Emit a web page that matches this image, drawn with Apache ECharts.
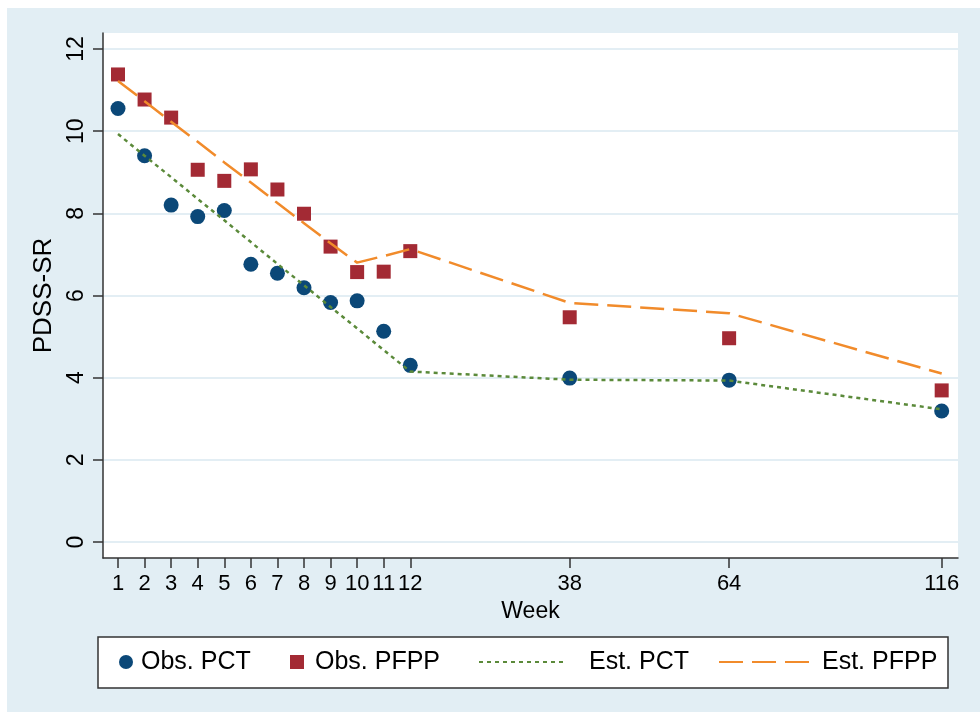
<!DOCTYPE html>
<html><head><meta charset="utf-8">
<script src="https://cdn.jsdelivr.net/npm/echarts@6/dist/echarts.min.js"></script>
<style>
html,body{margin:0;padding:0;background:#fff}
#wrap{position:relative;width:980px;height:712px;overflow:hidden}
#bg{position:absolute;left:7px;top:8px;right:0;bottom:0;background:#e2eef4}
#chart{position:absolute;left:0;top:0;width:980px;height:712px}
</style>
</head><body><div id="wrap"><div id="bg"></div><div id="chart"></div></div>
<script>
// ---- data ----
const weeks   = [1,2,3,4,5,6,7,8,9,10,11,12,38,64,116];
const obsPCT  = [10.55,9.40,8.20,7.92,8.07,6.76,6.54,6.19,5.83,5.87,5.13,4.30,3.99,3.94,3.19];
const obsPFPP = [11.38,10.77,10.33,9.06,8.79,9.07,8.58,7.99,7.19,6.57,6.58,7.08,5.47,4.96,3.69];
const estPCT  = [9.93,9.40,8.88,8.35,7.83,7.30,6.77,6.25,5.72,5.20,4.67,4.15,3.95,3.93,3.23];
const estPFPP = [11.22,10.73,10.23,9.74,9.24,8.75,8.25,7.76,7.27,6.80,6.96,7.13,5.82,5.57,4.10];
const yTicks  = [0,2,4,6,8,10,12];
const xTickWeeks = [1,2,3,4,5,6,7,8,9,10,11,12,38,64,116];
const seriesNames = ['Obs. PCT','Obs. PFPP','Est. PCT','Est. PFPP'];

// compressed (broken) week scale: weekly spacing up to 12, compressed after
function weekScale(w){
  if (w <= 12) return w;
  if (w <= 38) return 12 + (w-12)*6/26;
  if (w <= 64) return 18 + (w-38)*6/26;
  return 24 + (w-64)*8/52;
}
function weekLabel(v){
  for (const w of xTickWeeks){ if (Math.abs(weekScale(w)-v) < 1e-6) return String(w); }
  return '';
}
const pts = arr => weeks.map((w,i)=>[weekScale(w), arr[i]]);

const FONT = '"Liberation Sans", Arial, Helvetica, sans-serif';
const C_BLUE='#0b4878', C_RED='#a32a34', C_GREEN='#5b8a3a', C_ORANGE='#f18b2b';

const chart = echarts.init(document.getElementById('chart'), null, {renderer:'canvas'});
const legendText = (pad) => ({fontSize:25, color:'#000', fontFamily:FONT, lineHeight:26, padding:[0,0,0,pad]});
const legendBase = {orient:'horizontal', top:649, padding:0, itemHeight:14, selectedMode:false};
chart.setOption({
  animation:false,
  backgroundColor:'transparent',
  textStyle:{fontFamily:FONT},
  graphic:[{type:'rect', shape:{x:98,y:637,width:850,height:51}, style:{fill:'#fff', stroke:'#333', lineWidth:1.5}, z:-1, silent:true}],
  grid:{left:103, right:22, top:33, bottom:154, show:true, backgroundColor:'#fff', borderWidth:0, containLabel:false},
  legend:[
    Object.assign({}, legendBase, {data:[{name:seriesNames[0], icon:'circle'}], left:119, itemWidth:14, itemHeight:14, textStyle:legendText(3)}),
    Object.assign({}, legendBase, {data:[{name:seriesNames[1], icon:'rect'}], left:290, itemWidth:14, textStyle:legendText(6)}),
    Object.assign({}, legendBase, {data:[seriesNames[2]], left:478, itemWidth:85, itemStyle:{opacity:0}, textStyle:legendText(20)}),
    Object.assign({}, legendBase, {data:[seriesNames[3]], left:718, itemWidth:90, itemStyle:{opacity:0}, textStyle:legendText(8)})
  ],
  xAxis:{
    type:'value', min:0.435, max:32.614,
    name:'Week', nameLocation:'middle', nameGap:40,
    nameTextStyle:{fontSize:23, color:'#000', fontFamily:FONT},
    axisLine:{show:true, onZero:false, lineStyle:{color:'#333', width:1.5}},
    axisTick:{show:true, length:10, lineStyle:{color:'#333', width:1.5}, customValues:xTickWeeks.map(weekScale)},
    axisLabel:{fontSize:22, color:'#000', margin:15, fontFamily:FONT, customValues:xTickWeeks.map(weekScale), formatter:weekLabel},
    splitLine:{show:false}
  },
  yAxis:{
    type:'value', min:-0.389, max:12.389,
    name:'PDSS-SR', nameLocation:'middle', nameGap:37, nameRotate:90,
    nameTextStyle:{fontSize:26, color:'#000', fontFamily:FONT},
    axisLine:{show:true, onZero:false, lineStyle:{color:'#333', width:1.5}},
    axisTick:{show:true, length:10, lineStyle:{color:'#333', width:1.5}, customValues:yTicks},
    axisLabel:{fontSize:23, color:'#000', margin:15, rotate:90, fontFamily:FONT, customValues:yTicks},
    splitLine:{show:true, lineStyle:{color:'#e3eef4', width:2}}
  },
  series:[
    {name:seriesNames[0], type:'scatter', data:pts(obsPCT), symbol:'circle', symbolSize:15, itemStyle:{color:C_BLUE, opacity:1}, z:2},
    {name:seriesNames[1], type:'scatter', data:pts(obsPFPP), symbol:'rect', symbolSize:14, itemStyle:{color:C_RED, opacity:1}, z:2},
    {name:seriesNames[2], type:'line', data:pts(estPCT), showSymbol:false, symbol:'none', itemStyle:{color:C_GREEN}, lineStyle:{color:C_GREEN, width:2.5, type:[4,4]}, z:3},
    {name:seriesNames[3], type:'line', data:pts(estPFPP), showSymbol:false, symbol:'none', itemStyle:{color:C_ORANGE}, lineStyle:{color:C_ORANGE, width:2.5, type:[24,9]}, z:3}
  ]
});
</script>
</body></html>
